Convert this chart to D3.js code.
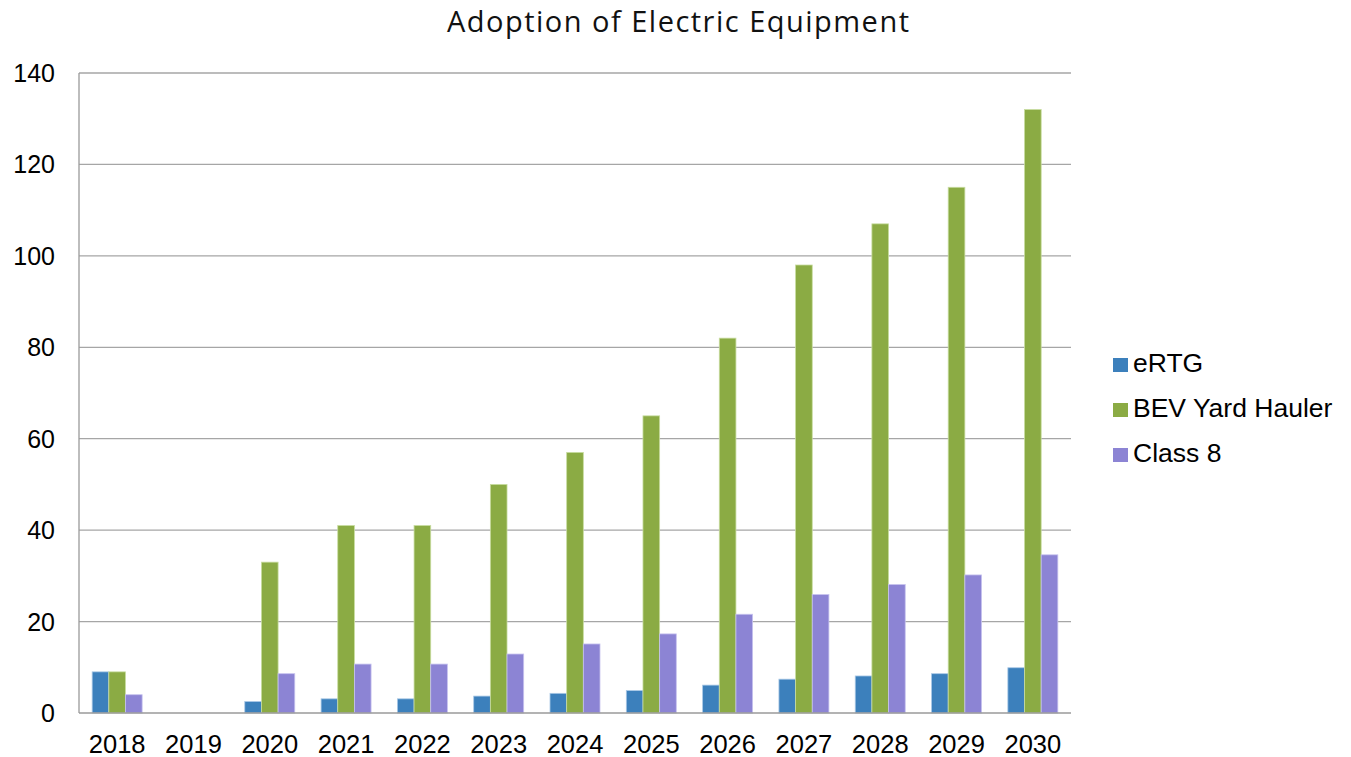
<!DOCTYPE html>
<html><head><meta charset="utf-8">
<script src="https://cdn.jsdelivr.net/npm/d3@7"></script>
<style>body{margin:0;background:#fff}svg{display:block}</style>
</head><body><svg id="c" width="1351" height="757"></svg>
<script>
const years = ["2018","2019","2020","2021","2022","2023","2024","2025","2026","2027","2028","2029","2030"];
const seriesNames = ["eRTG","BEV Yard Hauler","Class 8"];
const eRTG = [9,0,2.5,3.1,3.1,3.7,4.3,4.9,6.1,7.4,8.1,8.6,9.9];
const bevYardHauler = [9,0,33,41,41,50,57,65,82,98,107,115,132];
const class8 = [4,0,8.6,10.7,10.7,12.9,15.1,17.3,21.6,25.9,28.1,30.2,34.6];
const yTicks = [0,20,40,60,80,100,120,140];
const colors = ["#3c80bc","#8bab44","#8c84d4"];
const strokes = ["#a9c8e6","#c8dca0","#c6c2ee"];

const svg = d3.select("#c");
const L=79, R=1071, T=73, B=713;
const x0 = d3.scaleBand().domain(years).range([L,R]).padding(0);
const x1 = d3.scaleBand().domain(seriesNames).range([0,x0.bandwidth()]).paddingInner(0).paddingOuter(0.79);
const y = d3.scaleLinear().domain([0,140]).range([B,T]);
const sans = "Liberation Sans, Arial, sans-serif";

// gridlines
svg.append("g").selectAll("line").data(yTicks.filter(d=>d>0)).join("line")
  .attr("x1",L).attr("x2",R).attr("y1",d=>y(d)).attr("y2",d=>y(d))
  .attr("stroke","#a6a6a6").attr("stroke-width",1.3);

// y axis labels
const yAxis = d3.axisLeft(y).tickValues(yTicks).tickSize(0).tickPadding(0);
const ya = svg.append("g").attr("transform",`translate(55,0)`).call(yAxis);
ya.select(".domain").remove();
ya.selectAll("text").attr("font-family",sans).attr("font-size",25).attr("fill","#000").attr("dy","0.34em");

// bars
const data = [eRTG,bevYardHauler,class8];
data.forEach((vals,si)=>{
  svg.append("g").selectAll("rect").data(vals.map((v,i)=>({v,yr:years[i]})).filter(d=>d.v>0)).join("rect")
    .attr("x",d=>x0(d.yr)+x1(seriesNames[si]))
    .attr("width",x1.bandwidth())
    .attr("y",d=>y(d.v))
    .attr("height",d=>B-y(d.v))
    .attr("fill",colors[si])
    .attr("stroke",strokes[si]).attr("stroke-width",0.8);
});

// axes lines
svg.append("line").attr("x1",L).attr("x2",L).attr("y1",T).attr("y2",B).attr("stroke","#9a9a9a").attr("stroke-width",1.3);
svg.append("line").attr("x1",L).attr("x2",R).attr("y1",B).attr("y2",B).attr("stroke","#9a9a9a").attr("stroke-width",1.5);

// x axis labels
const xAxis = d3.axisBottom(x0).tickSize(0).tickPadding(0);
const xa = svg.append("g").attr("transform",`translate(0,${B+22})`).call(xAxis);
xa.select(".domain").remove();
xa.selectAll("text").attr("font-family",sans).attr("font-size",25.5).attr("fill","#000").attr("dy","0.71em");

// title
svg.append("text").attr("x",678).attr("y",32).attr("text-anchor","middle")
  .attr("font-family","'Open Sans', Lato, sans-serif").attr("font-weight",400).attr("font-size",29)
  .attr("textLength",462).attr("lengthAdjust","spacing")
  .attr("fill","#111").text("Adoption of Electric Equipment");

// legend
const lg = svg.append("g").selectAll("g").data(seriesNames).join("g")
  .attr("transform",(d,i)=>`translate(1113,${372+i*45})`);
lg.append("rect").attr("x",0).attr("y",-14).attr("width",15).attr("height",14).attr("fill",(d,i)=>colors[i]);
lg.append("text").attr("x",20).attr("y",0)
  .attr("font-family",sans).attr("font-size",26.5).attr("fill","#000").text(d=>d);
</script></body></html>
